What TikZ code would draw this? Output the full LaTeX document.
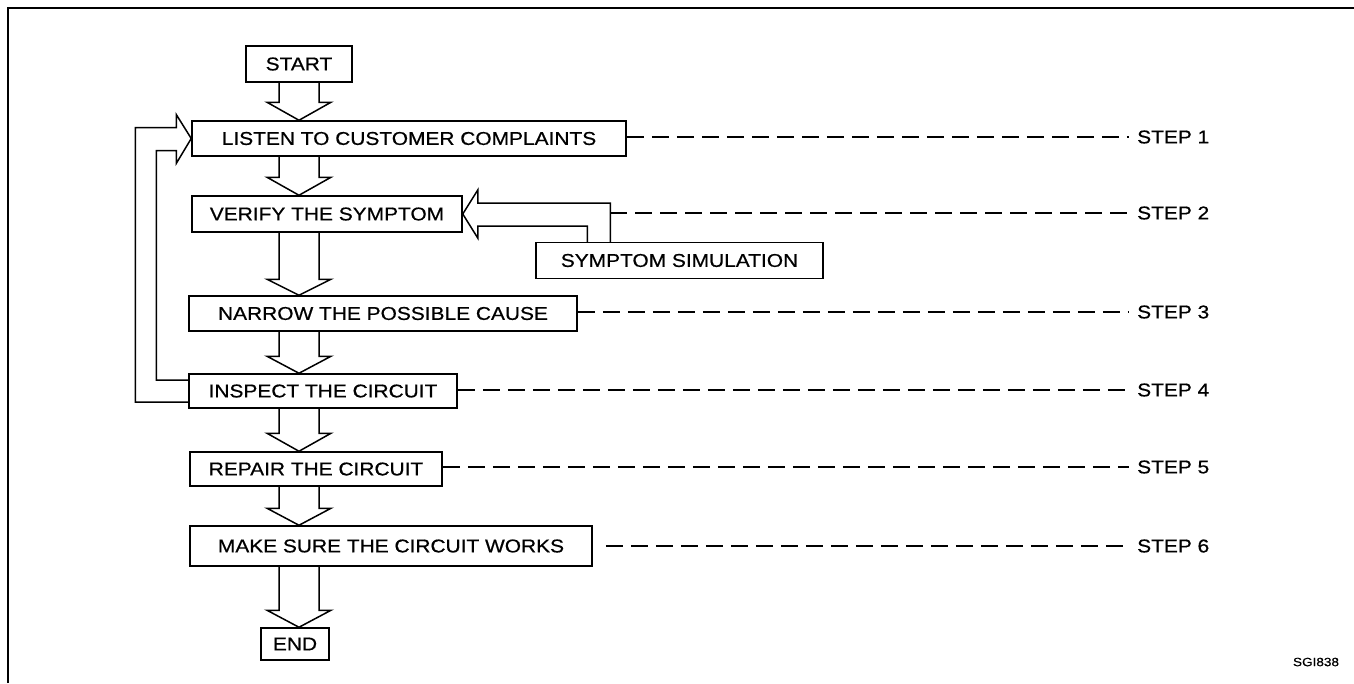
\documentclass[tikz,border=0pt]{standalone}
\usepackage{fontspec}
\setmainfont{Liberation Sans}[FakeStretch=1.13, FakeBold=0.6]
\usetikzlibrary{calc}
\tikzset{
  box/.style={draw, line width=1.5pt, inner sep=0pt, font=\fontsize{18.5}{20}\selectfont},
  blk/.style={draw, line width=1.5pt, line join=miter},
  steplink/.style={line width=1.3pt, dash pattern=on 17pt off 8pt},
  steplabel/.style={anchor=west, inner sep=0pt, font=\fontsize{18.5}{20}\selectfont},
  frame/.style={line width=2.5pt}
}
\newcommand{\blockdn}[3]{%
  \path (axis |- #1.south) coordinate (bd1) (axis |- #2.north) coordinate (bd2);
  \draw[blk] ($(bd1)+(-20,0)$) -- ($(bd2)+(-20,-#3)$) -- ($(bd2)+(-32,-#3)$) -- (bd2)
    -- ($(bd2)+(32,-#3)$) -- ($(bd2)+(20,-#3)$) -- ($(bd1)+(20,0)$);
}
\begin{document}
\begin{tikzpicture}[x=1pt, y=-1pt]
\useasboundingbox (0,0) rectangle (1354,683);
% frame
\draw[frame] (8,683) -- (8,8) -- (1354,8);
\coordinate (axis) at (299,0);
% boxes
\node[box, minimum width=106, minimum height=36] (start) at (299,64) {START};
\node[box, minimum width=434, minimum height=35] (listen) at (409,138.5) {LISTEN TO CUSTOMER COMPLAINTS};
\node[box, minimum width=270, minimum height=36] (verify) at (327,214) {VERIFY THE SYMPTOM};
\node[box, minimum width=287, minimum height=36] (sim) at (679.5,260.5) {SYMPTOM SIMULATION};
\node[box, minimum width=388, minimum height=35] (narrow) at (383,313.5) {NARROW THE POSSIBLE CAUSE};
\node[box, minimum width=268, minimum height=34] (inspect) at (323,391) {INSPECT THE CIRCUIT};
\node[box, minimum width=252, minimum height=34] (repair) at (316,469) {REPAIR THE CIRCUIT};
\node[box, minimum width=402, minimum height=40] (make) at (391,546) {MAKE SURE THE CIRCUIT WORKS};
\node[box, minimum width=68, minimum height=32] (end) at (295,644) {END};
% down block arrows
\blockdn{start}{listen}{18}
\blockdn{listen}{verify}{18}
\blockdn{verify}{narrow}{16}
\blockdn{narrow}{inspect}{17}
\blockdn{inspect}{repair}{18}
\blockdn{repair}{make}{17}
\blockdn{make}{end}{17}
% feedback loop INSPECT -> LISTEN
\draw[blk] ($(inspect.west)+(0,-11)$) -- ($(inspect.west)+(-32,-11)$)
  -- ($(listen.west)+(-35,12)$) -- ($(listen.west)+(-15,12)$)
  -- ($(listen.west)+(-15,25)$) -- (listen.west)
  -- ($(listen.west)+(-15,-24)$) -- ($(listen.west)+(-15,-11)$)
  -- ($(listen.west)+(-56,-11)$) -- ($(inspect.west)+(-53,11)$)
  -- ($(inspect.west)+(0,11)$);
% symptom simulation -> verify
\coordinate (simout) at ($(sim.north west)+(75,0)$);
\coordinate (simin) at ($(sim.north west)+(52,0)$);
\draw[blk] (simin) -- (simin |- {$(verify.east)+(0,12)$}) -- ($(verify.east)+(15,12)$)
  -- ($(verify.east)+(15,24)$) -- (verify.east) -- ($(verify.east)+(15,-24)$)
  -- ($(verify.east)+(15,-11)$) -- (simout |- {$(verify.east)+(0,-11)$}) -- (simout);
% step labels
\node[steplabel] (s1) at (1137,137) {STEP 1};
\node[steplabel] (s2) at (1137,213) {STEP 2};
\node[steplabel] (s3) at (1137,312) {STEP 3};
\node[steplabel] (s4) at (1137,390) {STEP 4};
\node[steplabel] (s5) at (1137,467) {STEP 5};
\node[steplabel] (s6) at (1137,546) {STEP 6};
% dashed links
\draw[steplink] (listen.east |- s1.west) -- ($(s1.west)+(-8,0)$);
\draw[steplink] (simout |- s2.west) -- ($(s2.west)+(-8,0)$);
\draw[steplink] (narrow.east |- s3.west) -- ($(s3.west)+(-8,0)$);
\draw[steplink] (inspect.east |- s4.west) -- ($(s4.west)+(-8,0)$);
\draw[steplink] (repair.east |- s5.west) -- ($(s5.west)+(-8,0)$);
\draw[steplink] ($(make.east |- s6.west)+(13,0)$) -- ($(s6.west)+(-8,0)$);
% code
\node[font=\fontsize{12}{14}\selectfont] (code) at (1316,662) {SGI838};
\end{tikzpicture}
\end{document}
